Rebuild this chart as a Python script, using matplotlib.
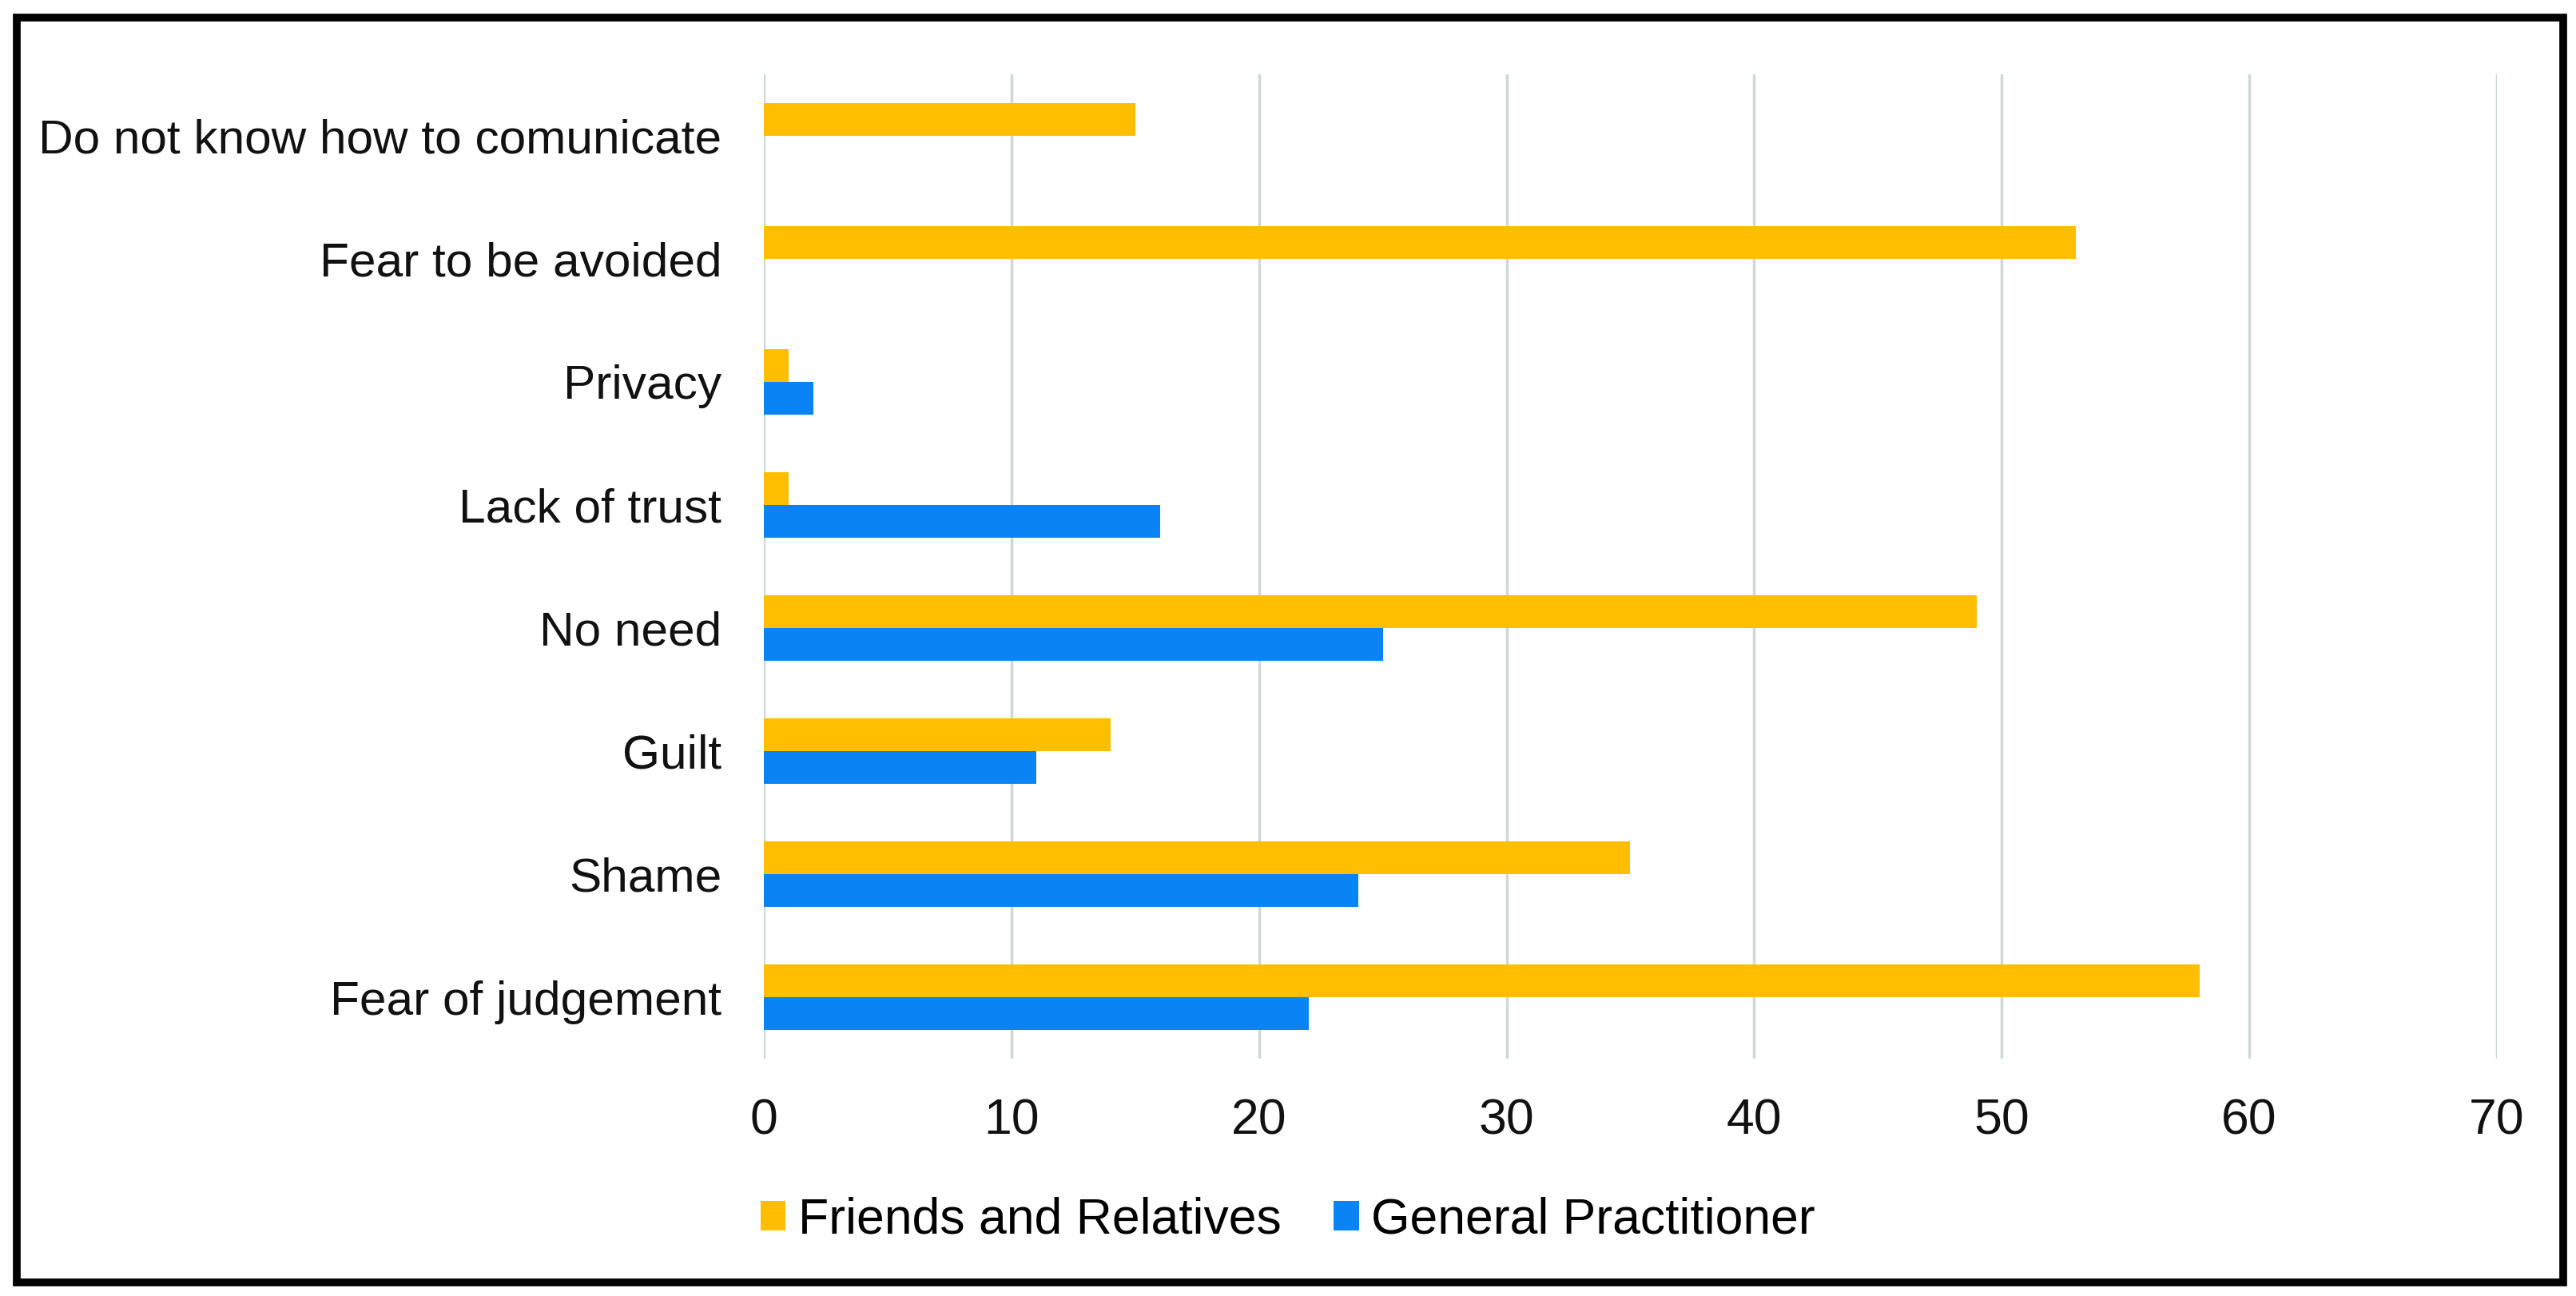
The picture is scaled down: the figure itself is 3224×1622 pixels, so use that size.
import matplotlib
matplotlib.use("Agg")
import matplotlib.pyplot as plt
from matplotlib.patches import Rectangle
import numpy as np

plt.rcParams['font.family'] = ['Liberation Sans', 'DejaVu Sans']

categories = ["Fear of judgement", "Shame", "Guilt", "No need", "Lack of trust",
              "Privacy", "Fear to be avoided", "Do not know how to comunicate"]
friends_relatives = [58, 35, 14, 49, 1, 1, 53, 15]
general_practitioner = [22, 24, 11, 25, 16, 2, 0, 0]
series_names = ["Friends and Relatives", "General Practitioner"]
xticks = [0, 10, 20, 30, 40, 50, 60, 70]

c_orange = "#FFBF00"
c_blue = "#0A84F5"
grid_c = "#CFD9D4"
fs_y = 43.5
fs = 45

fig = plt.figure(figsize=(32.24, 16.22), dpi=100)
ax = fig.add_axes([0.2965, 0.1831, 0.6728, 0.7596])

y = np.arange(len(categories))
h = 0.266
ax.barh(y + h / 2, friends_relatives, height=h, color=c_orange, label=series_names[0], zorder=3)
ax.barh(y - h / 2, general_practitioner, height=h, color=c_blue, label=series_names[1], zorder=3)

ax.set_xlim(0, 70)
ax.set_ylim(-0.5, len(categories) - 0.5)
ax.set_xticks(xticks)
ax.set_xticklabels([str(v) for v in xticks])
ax.set_yticks(y)
ax.set_yticklabels(categories)
ax.tick_params(axis='both', length=0, colors='#111111')
ax.tick_params(axis='x', pad=35, labelsize=fs)
ax.tick_params(axis='y', pad=38, labelsize=fs_y)
ax.xaxis.grid(True, color=grid_c, linewidth=2.5, zorder=0)
ax.set_axisbelow(True)
for s in ax.spines.values():
    s.set_visible(False)

leg = fig.legend(loc='center', bbox_to_anchor=(0.5, 0.0585), ncol=2, frameon=False,
                 fontsize=fs, handlelength=0.5, handleheight=0.55,
                 handletextpad=0.25, columnspacing=1.05)

fig.patches.append(Rectangle((21 / 3224, 1 - 1605 / 1622), (3208 - 21) / 3224, (1605 - 22) / 1622,
                             transform=fig.transFigure, fill=False, edgecolor='black',
                             linewidth=7, zorder=10))

fig.savefig("out.png", dpi=100, facecolor='white')
